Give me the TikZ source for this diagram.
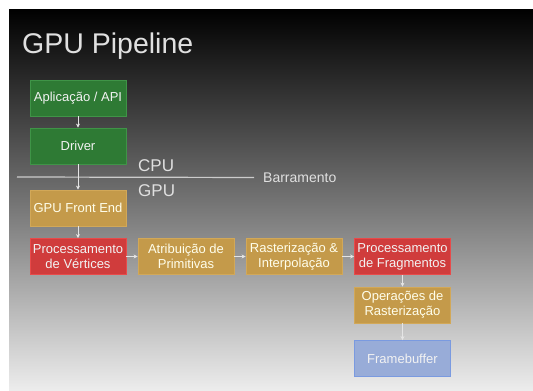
\documentclass[tikz,border=0pt]{standalone}
\usepackage{fontspec}
\setmainfont{Liberation Sans}
\usetikzlibrary{arrows.meta}
\definecolor{gfill}{HTML}{2E7A34}
\definecolor{gline}{HTML}{3F9447}
\definecolor{tfill}{HTML}{C49A4A}
\definecolor{tline}{HTML}{D2A858}
\definecolor{rfill}{HTML}{D03C3C}
\definecolor{rline}{HTML}{E84A4A}
\definecolor{bfill}{HTML}{98ACD8}
\definecolor{bline}{HTML}{7A9AE0}
\definecolor{txtw}{HTML}{F2F2F2}
\begin{document}
\begin{tikzpicture}[x=1pt,y=-1pt,
  stage/.style={minimum width=96pt,minimum height=36pt,inner sep=0pt,align=center,
    font=\fontsize{13}{15}\selectfont,text=txtw,line width=0.8pt},
  greenbox/.style={stage,fill=gfill,draw=gline},
  tanbox/.style={stage,fill=tfill,draw=tline,text=white!92!yellow},
  redbox/.style={stage,fill=rfill,draw=rline},
  bluebox/.style={stage,fill=bfill,draw=bline},
  flow/.style={draw=white!90!black,line width=0.6pt,-{Stealth[length=4pt,width=4pt]}},
  lbl/.style={text=white!88!black,inner sep=0pt}]
\useasboundingbox (0,0) rectangle (533,391);
\fill[white] (0,0) rectangle (533,391);
\shade[top color=black,bottom color=white!93!black,middle color=black!55] (9,9) rectangle (533,391);
\node[lbl,anchor=west,font=\fontsize{28.5}{30}\selectfont] (title) at (22,46) {GPU Pipeline};
\node[greenbox] (app) at (78,98) {Aplicação / API};
\node[greenbox] (drv) at (78,146) {Driver};
\node[tanbox] (fe) at (78,208) {GPU Front End};
\node[redbox] (pv) at (78,256.5) {Processamento\\de Vértices};
\node[tanbox] (ap) at (186,256.5) {Atribuição de\\Primitivas};
\node[tanbox] (ri) at (294,256.5) {Rasterização \&\\Interpolação};
\node[redbox] (pf) at (402.5,256.5) {Processamento\\de Fragmentos};
\node[tanbox] (op) at (402.5,305) {Operações de\\Rasterização};
\node[bluebox] (fb) at (402.5,358.5) {Framebuffer};
\coordinate (busL) at (17,177);
\node[lbl,anchor=west,font=\fontsize{14}{15}\selectfont] (bus) at (263,177.5) {Barramento};
\draw[white!80!black,line width=1.2pt,shorten >=9pt] (busL) -- (bus.west);
\node[lbl,anchor=west,font=\fontsize{17}{18}\selectfont] (cpu) at (138,166) {CPU};
\node[lbl,anchor=west,font=\fontsize{17}{18}\selectfont] (gpu) at (138,191) {GPU};
\draw[flow] (app) -- (drv);
\draw[flow] (drv) -- (fe);
\draw[flow] (fe) -- (pv);
\draw[flow] (pv) -- (ap);
\draw[flow] (ap) -- (ri);
\draw[flow] (ri) -- (pf);
\draw[flow] (pf) -- (op);
\draw[flow] (op) -- (fb);
\end{tikzpicture}
\end{document}
